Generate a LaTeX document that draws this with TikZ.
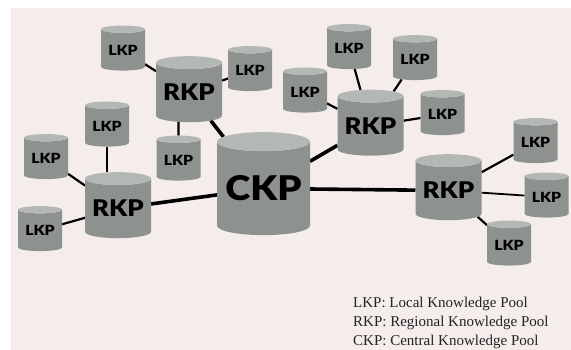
\documentclass[tikz,border=0pt]{standalone}
\usepackage{fontspec}
\setmainfont{Liberation Serif}
\newfontfamily\poolfont[FakeStretch=1.12]{Lato Black}
\usetikzlibrary{shapes.geometric}
\pgfdeclarelayer{bg}
\pgfdeclarelayer{links}
\pgfsetlayers{bg,links,main}

\definecolor{paper}{RGB}{245,236,236}
\definecolor{poolbody}{RGB}{141,146,142}
\definecolor{pooltop}{RGB}{180,184,181}
\definecolor{legendtext}{RGB}{35,35,35}

\tikzset{
  pool/.style={cylinder, shape border rotate=90, aspect=0.25,
    inner sep=0pt, outer sep=0pt,
    cylinder uses custom fill, cylinder body fill=poolbody,
    cylinder end fill=pooltop, text=black},
  lkp/.style={pool, minimum width=44pt, minimum height=45pt,
    font=\poolfont\fontsize{14}{14}\selectfont},
  rkp/.style={pool, minimum width=66pt, minimum height=66pt,
    font=\poolfont\fontsize{23}{23}\selectfont},
  ckp/.style={pool, minimum width=93pt, minimum height=103pt,
    font=\poolfont\fontsize{34}{34}\selectfont},
  link/.style={draw=black, line width=2.2pt},
  trunk/.style={draw=black, line width=3.6pt},
  legend/.style={anchor=base west, inner sep=0pt, text=legendtext,
    font=\fontsize{15}{18}\selectfont}
}

\begin{document}
\begin{tikzpicture}[x=1pt,y=-1pt]
  % paper with its white margin on the top and left
  \begin{pgfonlayer}{bg}
    \fill[white] (0,0) rectangle (571,350);
    \fill[paper] (11,8) rectangle (571,350);
  \end{pgfonlayer}
  \useasboundingbox (0,0) rectangle (571,350);

  % central pool
  \node[ckp] (ckp) at (263.5,188.5) {CKP};

  % regional pools
  \node[rkp] (r1) at (189,92.5) {RKP};
  \node[rkp] (r2) at (118,208.5) {RKP};
  \node[rkp] (r3) at (370.5,126) {RKP};
  \node[rkp] (r4) at (448.5,190.5) {RKP};

  % local pools
  \node[lkp] (l1) at (123,50) {LKP};
  \node[lkp] (l2) at (250,70.5) {LKP};
  \node[lkp] (l3) at (107,126) {LKP};
  \node[lkp] (l4) at (178.5,160) {LKP};
  \node[lkp] (l5) at (46,158.5) {LKP};
  \node[lkp] (l6) at (40,230.5) {LKP};
  \node[lkp] (l7) at (349,48.5) {LKP};
  \node[lkp] (l8) at (415,59.5) {LKP};
  \node[lkp] (l9) at (305,92) {LKP};
  \node[lkp] (l10) at (442.5,114.5) {LKP};
  \node[lkp] (l11) at (535.5,142.5) {LKP};
  \node[lkp] (l12) at (546.5,197) {LKP};
  \node[lkp] (l13) at (509,245) {LKP};

  % links between pools
  \begin{pgfonlayer}{links}
    \draw[trunk] (ckp) -- (r1);
    \draw[trunk] (ckp) -- (r2);
    \draw[trunk] (ckp) -- (r3);
    \draw[trunk] (ckp) -- (r4);
    \draw[link] (r1) -- (l1);
    \draw[link] (r1) -- (l2);
    \draw[link] (l4) -- (l4 |- r1.south);
    \draw[link] (l3) -- (l3 |- r2.north);
    \draw[link] (r2) -- (l5);
    \draw[link] (r2) -- (l6);
    \draw[link] (r3) -- (l7);
    \draw[link] (r3) -- (l8);
    \draw[link] (r3) -- (l9);
    \draw[link] (r3) -- (l10);
    \draw[link] (r4) -- (l11);
    \draw[link, line width=1.8pt] (r4) -- (l12);
    \draw[link] (r4) -- (l13);
  \end{pgfonlayer}

  % legend
  \node[legend] (leg1) at (353,308) {LKP: Local Knowledge Pool};
  \node[legend] (leg2) at (353,326.5) {RKP: Regional Knowledge Pool};
  \node[legend] (leg3) at (353,345) {CKP: Central Knowledge Pool};
\end{tikzpicture}
\end{document}
